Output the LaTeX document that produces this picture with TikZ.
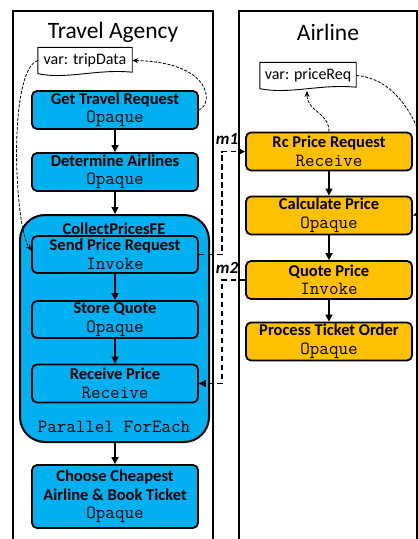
\documentclass[tikz,border=0pt]{standalone}
\usepackage{fontspec}
\setmainfont{Carlito}
\usetikzlibrary{arrows.meta,calc}
\definecolor{actblue}{HTML}{00B0F0}
\definecolor{actorange}{HTML}{FFC000}
\newcommand\kindtxt[1]{{\normalfont\ttfamily\fontsize{18.5}{18}\selectfont #1}}

\begin{document}
\begin{tikzpicture}[x=1pt,y=-1pt,
  lane/.style={line width=2pt},
  lanetitle/.style={font=\fontsize{23.5}{26}\selectfont, inner sep=0pt},
  activity/.style={draw, line width=1.8pt, rounded corners=5pt, minimum width=166pt,
    minimum height=38pt, align=center, inner sep=0pt,
    font=\fontsize{16.5}{18.5}\selectfont\bfseries},
  blueact/.style={activity, fill=actblue},
  orangeact/.style={activity, fill=actorange},
  container/.style={draw, line width=2pt, fill=actblue, rounded corners=25pt, inner sep=0pt},
  vardoc/.style={minimum width=94pt, minimum height=26pt, inner sep=0pt,
    font=\fontsize{16}{18}\selectfont},
  docline/.style={line width=0.9pt},
  flow/.style={line width=1.5pt, -{Triangle[length=7pt,width=7pt]}},
  msg/.style={line width=1.5pt, dash pattern=on 5.5pt off 3.5pt, -{Triangle[length=7pt,width=7pt]}},
  dataflow/.style={line width=0.8pt, dash pattern=on 3pt off 1.5pt, -{Stealth[length=6pt,width=5pt]}},
  msglabel/.style={font=\fontsize{17}{18}\selectfont\bfseries\itshape, inner sep=0pt}
]
\useasboundingbox (0,0) rectangle (418,539);

% swimlanes, open at the bottom
\draw[lane] (13,545) -- (13,11) -- (213,11) -- (213,545);
\draw[lane] (239,545) -- (239,11) -- (417,11) -- (417,545);
\node[lanetitle] (tatitle) at (113,32) {Travel Agency};
\node[lanetitle] (altitle) at (328,32) {Airline};

% data variables (document shapes)
\node[vardoc] (trip) at (85,60.5) {var: tripData};
\draw[docline] (trip.north west) -- (trip.north east) -- ($(trip.south east)+(0,-1.5)$)
  .. controls ($(trip.south)+(12,-5)$) and ($(trip.south)+(-18,6)$) .. (trip.south west) -- cycle;
\node[vardoc, minimum width=96pt] (preq) at (308,75.5) {var: priceReq};
\draw[docline] (preq.north west) -- (preq.north east) -- ($(preq.south east)+(0,-1.5)$)
  .. controls ($(preq.south)+(12,-5)$) and ($(preq.south)+(-18,6)$) .. (preq.south west) -- cycle;

% travel agency process
\node[blueact] (get) at (115,110) {Get Travel Request\\\kindtxt{Opaque}};
\node[blueact] (det) at (115,172) {Determine Airlines\\\kindtxt{Opaque}};
\node[container, minimum width=189pt, minimum height=227pt] (fe) at (114.5,328.5) {};
\node[font=\fontsize{16.5}{18}\selectfont\bfseries, inner sep=0pt] (felabel) at (114,228.5) {CollectPricesFE};
\node[blueact, minimum height=37pt] (send) at (115,254.5) {Send Price Request\\\kindtxt{Invoke}};
\node[blueact, minimum height=37pt] (store) at (115,319.5) {Store Quote\\\kindtxt{Opaque}};
\node[blueact] (recv) at (115,383.5) {Receive Price\\\kindtxt{Receive}};
\node[inner sep=0pt] (fekind) at (114,427) {\kindtxt{Parallel ForEach}};
\node[blueact, minimum height=63pt] (choose) at (115,496.5)
  {Choose Cheapest\\Airline \& Book Ticket\\\kindtxt{Opaque}};

% airline process
\node[orangeact] (rc) at (329,151.5) {Rc Price Request\\\kindtxt{Receive}};
\node[orangeact] (calc) at (329,215.5) {Calculate Price\\\kindtxt{Opaque}};
\node[orangeact] (quote) at (329,280) {Quote Price\\\kindtxt{Invoke}};
\node[orangeact] (proc) at (329,341.5) {Process Ticket Order\\\kindtxt{Opaque}};

% control flow
\draw[flow] (get) -- (det);
\draw[flow] (det.south) -- (det.south |- fe.north);
\draw[flow] (send) -- (store);
\draw[flow] (store) -- (recv);
\draw[flow] (fe.south -| choose.north) -- (choose.north);
\draw[flow] (rc) -- (calc);
\draw[flow] (calc) -- (quote);
\draw[flow] (quote) -- (proc);

% messages
\coordinate (m1a) at (222,254.5);
\coordinate (m1b) at (222,151.5);
\draw[msg] (send.east) -- (m1a) -- (m1b) -- (rc.west);
\node[msglabel] (m1) at (227,139) {m1};
\coordinate (m2a) at (222,280);
\coordinate (m2b) at (222,383.5);
\draw[msg] (quote.west) -- (m2a) -- (m2b) -- (recv.east);
\node[msglabel] (m2) at (227,268) {m2};

% data flow
\draw[dataflow] (get.east) .. controls (214,104) and (212,62) .. (trip.east);
\draw[dataflow] (trip.west) .. controls (8,70) and (14,225) .. ($(send.west)+(0,-4)$);
\draw[dataflow] (rc.north) .. controls (329,112) and (307,112) .. (307,91);
\draw[dataflow] (preq.east) .. controls (425,80) and (445,205) .. (calc.east);
\end{tikzpicture}
\end{document}
